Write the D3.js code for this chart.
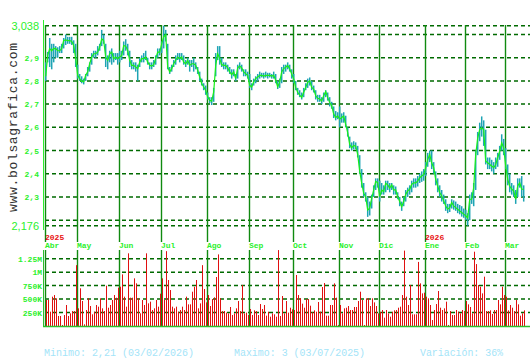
<!DOCTYPE html>
<html>
<head>
<meta charset="utf-8">
<script src="https://cdn.jsdelivr.net/npm/d3@7"></script>
<style>
  body { margin: 0; background: #fff; }
  svg { display: block; }
</style>
</head>
<body>
<svg id="chart" width="530" height="360"></svg>
<script>
// daily closes, one per trading day (Apr 2025 .. Mar 2026)
var closes = [
  2.82, 2.91, 2.939, 2.93, 2.94, 2.939, 2.93, 2.93, 2.939, 2.974, 2.977, 2.974, 2.974, 2.97, 2.953, 2.896,
  2.824, 2.81, 2.799, 2.796, 2.824, 2.839, 2.874, 2.903, 2.917, 2.917, 2.924, 2.946, 2.981, 2.974, 2.903, 2.889, 2.917, 2.924, 2.896, 2.903, 2.896,
  2.903, 2.91, 2.953, 2.95, 2.931, 2.889, 2.867, 2.867, 2.86, 2.853, 2.881, 2.896, 2.896, 2.903, 2.881, 2.867, 2.864, 2.87, 2.896, 2.924, 2.924,
  2.96, 2.99, 3.0, 2.86, 2.839, 2.853, 2.874, 2.889, 2.903, 2.896, 2.903, 2.881, 2.874, 2.889, 2.867, 2.874, 2.874, 2.867, 2.846, 2.817, 2.789, 2.774, 2.76,
  2.731, 2.717, 2.713, 2.753, 2.867, 2.917, 2.896, 2.87, 2.867, 2.867, 2.856, 2.839, 2.827, 2.839, 2.81, 2.856, 2.864, 2.856, 2.839, 2.831, 2.824,
  2.781, 2.774, 2.796, 2.81, 2.817, 2.824, 2.824, 2.821, 2.824, 2.824, 2.824, 2.821, 2.824, 2.803, 2.774, 2.796, 2.839, 2.853, 2.859, 2.867, 2.852, 2.83,
  2.809, 2.772, 2.751, 2.739, 2.729, 2.751, 2.772, 2.794, 2.801, 2.772, 2.765, 2.736, 2.725, 2.722, 2.714, 2.736, 2.754, 2.729, 2.707, 2.693, 2.657, 2.642, 2.649,
  2.635, 2.642, 2.649, 2.613, 2.577, 2.526, 2.512, 2.522, 2.519, 2.483, 2.41, 2.359, 2.316, 2.301, 2.243, 2.251, 2.294, 2.33, 2.367, 2.362,
  2.301, 2.33, 2.323, 2.359, 2.352, 2.338, 2.352, 2.33, 2.33, 2.301, 2.28, 2.258, 2.28, 2.311, 2.326, 2.333, 2.354, 2.361, 2.361, 2.368, 2.383, 2.39, 2.397,
  2.426, 2.461, 2.483, 2.447, 2.426, 2.376, 2.347, 2.319, 2.304, 2.283, 2.261, 2.247, 2.254, 2.276, 2.261, 2.254, 2.247, 2.24, 2.233, 2.226,
  2.219, 2.21, 2.29, 2.29, 2.34, 2.483, 2.554, 2.59, 2.597, 2.59, 2.454, 2.447, 2.44, 2.433, 2.426, 2.44, 2.469, 2.497, 2.533, 2.511,
  2.433, 2.376, 2.347, 2.333, 2.326, 2.29, 2.347, 2.361, 2.333, 2.333
];

var highs = [
  2.88, 2.925, 2.985, 2.96, 2.96, 2.95, 2.945, 2.95, 2.96, 2.985, 3.0, 2.99, 2.99, 2.99, 2.975, 2.96,
  2.87, 2.83, 2.82, 2.81, 2.83, 2.86, 2.88, 2.92, 2.93, 2.93, 2.95, 2.96, 3.02, 3.0, 2.96, 2.91, 2.93, 2.94, 2.92, 2.92, 2.92,
  2.93, 2.93, 2.97, 2.98, 2.96, 2.93, 2.89, 2.88, 2.88, 2.87, 2.9, 2.91, 2.92, 2.93, 2.9, 2.88, 2.88, 2.89, 2.91, 2.94, 2.94,
  2.97, 3.038, 3.02, 2.96, 2.86, 2.87, 2.89, 2.91, 2.92, 2.92, 2.92, 2.91, 2.89, 2.9, 2.89, 2.89, 2.9, 2.88, 2.86, 2.84, 2.81, 2.79, 2.78,
  2.75, 2.73, 2.73, 2.77, 2.92, 2.95, 2.95, 2.9, 2.88, 2.88, 2.87, 2.86, 2.85, 2.85, 2.83, 2.87, 2.88, 2.87, 2.85, 2.85, 2.84,
  2.83, 2.79, 2.81, 2.82, 2.83, 2.84, 2.835, 2.835, 2.84, 2.835, 2.835, 2.83, 2.84, 2.83, 2.8, 2.81, 2.86, 2.87, 2.87, 2.88, 2.87, 2.85,
  2.83, 2.8, 2.77, 2.76, 2.75, 2.77, 2.79, 2.81, 2.815, 2.8, 2.78, 2.76, 2.74, 2.74, 2.73, 2.75, 2.76, 2.75, 2.73, 2.71, 2.69, 2.67, 2.665,
  2.69, 2.66, 2.665, 2.65, 2.6, 2.56, 2.535, 2.54, 2.535, 2.52, 2.48, 2.42, 2.36, 2.32, 2.3, 2.28, 2.31, 2.35, 2.38, 2.38,
  2.37, 2.36, 2.35, 2.37, 2.37, 2.36, 2.36, 2.35, 2.345, 2.32, 2.3, 2.28, 2.3, 2.33, 2.34, 2.35, 2.37, 2.38, 2.38, 2.39, 2.4, 2.41, 2.42,
  2.45, 2.49, 2.5, 2.5, 2.45, 2.41, 2.38, 2.35, 2.33, 2.31, 2.29, 2.27, 2.27, 2.29, 2.285, 2.28, 2.27, 2.265, 2.26, 2.25,
  2.245, 2.23, 2.31, 2.32, 2.36, 2.5, 2.58, 2.62, 2.647, 2.63, 2.59, 2.47, 2.47, 2.46, 2.45, 2.47, 2.49, 2.52, 2.57, 2.55,
  2.51, 2.44, 2.4, 2.36, 2.35, 2.33, 2.38, 2.38, 2.39, 2.35
];

var lows = [
  2.8, 2.88, 2.86, 2.85, 2.88, 2.9, 2.9, 2.92, 2.92, 2.94, 2.955, 2.96, 2.96, 2.955, 2.92, 2.86,
  2.81, 2.8, 2.79, 2.785, 2.8, 2.82, 2.84, 2.87, 2.9, 2.9, 2.91, 2.93, 2.95, 2.96, 2.86, 2.85, 2.88, 2.87, 2.88, 2.89, 2.87,
  2.88, 2.89, 2.91, 2.93, 2.91, 2.86, 2.85, 2.85, 2.84, 2.8, 2.86, 2.88, 2.88, 2.89, 2.87, 2.85, 2.85, 2.86, 2.87, 2.9, 2.91,
  2.92, 2.94, 2.97, 2.85, 2.83, 2.84, 2.86, 2.87, 2.89, 2.88, 2.89, 2.87, 2.86, 2.87, 2.84, 2.86, 2.84, 2.85, 2.83, 2.8, 2.78, 2.76, 2.74,
  2.72, 2.705, 2.696, 2.71, 2.82, 2.89, 2.87, 2.86, 2.85, 2.85, 2.84, 2.83, 2.81, 2.82, 2.8, 2.81, 2.85, 2.84, 2.82, 2.82, 2.81,
  2.77, 2.76, 2.78, 2.79, 2.8, 2.81, 2.815, 2.81, 2.815, 2.81, 2.815, 2.81, 2.81, 2.79, 2.765, 2.77, 2.79, 2.83, 2.84, 2.85, 2.84, 2.81,
  2.79, 2.76, 2.74, 2.73, 2.72, 2.73, 2.76, 2.77, 2.78, 2.76, 2.75, 2.72, 2.71, 2.71, 2.7, 2.71, 2.73, 2.715, 2.69, 2.68, 2.64, 2.63, 2.635,
  2.6, 2.62, 2.62, 2.6, 2.56, 2.51, 2.5, 2.505, 2.505, 2.47, 2.4, 2.34, 2.3, 2.28, 2.214, 2.22, 2.25, 2.3, 2.33, 2.34,
  2.28, 2.31, 2.31, 2.32, 2.33, 2.32, 2.33, 2.31, 2.31, 2.29, 2.26, 2.24, 2.26, 2.28, 2.3, 2.31, 2.32, 2.34, 2.34, 2.345, 2.36, 2.365, 2.37,
  2.39, 2.43, 2.45, 2.42, 2.4, 2.35, 2.32, 2.3, 2.28, 2.27, 2.24, 2.23, 2.235, 2.25, 2.245, 2.24, 2.23, 2.225, 2.215, 2.21,
  2.2, 2.176, 2.2, 2.27, 2.26, 2.33, 2.48, 2.54, 2.56, 2.52, 2.44, 2.42, 2.42, 2.41, 2.4, 2.42, 2.43, 2.46, 2.5, 2.48,
  2.42, 2.35, 2.32, 2.31, 2.3, 2.27, 2.3, 2.34, 2.3, 2.28
];

// daily volume, thousands of shares
var volumes = [
  483, 483, 266, 545, 575, 514, 186, 186, 19, 204, 390, 186, 235, 278, 278, 1130,
  328, 700, 464, 31, 297, 514, 371, 217, 266, 390, 359, 514, 328, 278, 749, 340, 390, 483, 575, 526, 712,
  730, 959, 545, 359, 1350, 526, 526, 885, 792, 514, 235, 483, 390, 1350, 421, 452, 297, 328, 483, 359, 600,
  885, 483, 1390, 854, 668, 359, 328, 359, 266, 297, 359, 297, 545, 402, 402, 637, 730, 854, 328, 420, 1130, 687, 439,
  575, 371, 501, 532, 910, 1330, 514, 278, 278, 248, 235, 353, 204, 235, 328, 464, 278, 761, 235, 248, 204,
  316, 204, 291, 278, 204, 408, 316, 390, 192, 266, 173, 235, 217, 173, 1410, 186, 557, 235, 464, 248, 340, 309,
  297, 947, 575, 514, 415, 340, 501, 501, 377, 254, 291, 266, 446, 266, 724, 798, 192, 192, 390, 390, 792, 526, 19,
  390, 235, 328, 340, 371, 297, 297, 353, 353, 464, 637, 483, 19, 514, 514, 371, 514, 439, 371, 235,
  266, 297, 155, 297, 235, 173, 266, 291, 297, 340, 359, 575, 1400, 545, 390, 761, 217, 217, 217, 1190, 792, 606, 619,
  545, 514, 390, 111, 297, 408, 650, 340, 297, 328, 452, 19, 278, 204, 204, 297, 266, 235, 297, 278,
  464, 402, 353, 235, 1380, 1150, 761, 730, 606, 916, 278, 278, 291, 223, 297, 297, 483, 402, 730, 575,
  545, 291, 390, 340, 278, 483, 402, 192, 235, 291
];

// month labels and the index of their first trading day
var months = ["Abr", "May", "Jun", "Jul", "Ago", "Sep", "Oct", "Nov", "Dic", "Ene", "Feb", "Mar"];
var monthStart = [0, 16, 37, 58, 81, 102, 124, 147, 167, 190, 210, 230];
var years = [{label: "2025", month: 0}, {label: "2026", month: 9}];

var priceMin = 2.176, priceMax = 3.038;
var priceGrid = [2.176, 2.2, 2.3, 2.4, 2.5, 2.6, 2.7, 2.8, 2.9, 3.0, 3.038];
var priceLabels = [2.3, 2.4, 2.5, 2.6, 2.7, 2.8, 2.9];
var volTicks = [250, 500, 750, 1000, 1250];
var volTickLabels = ["250K", "500K", "750K", "1M", "1.25M"];

var footer = ["Minimo: 2,21 (03/02/2026)", "Maximo: 3 (03/07/2025)", "Variación: 36%"];

var svg = d3.select("#chart");
var green = "#2cf02c";
var mono = "'Liberation Mono', 'DejaVu Sans Mono', monospace";
var comma = d => String(d).replace(".", ",");

var x = d3.scaleLinear().domain([0, closes.length - 1]).range([45.7, 523.7]);
var y = d3.scaleLinear().domain([priceMin, priceMax]).range([225.7, 25.7]);
var yv = d3.scaleLinear().domain([0, 1250]).range([326, 258.7]);

// price grid
svg.append("g").selectAll("line")
  .data(priceGrid)
  .enter()
  .append("line")
  .attr("x1", 45).attr("x2", 530)
  .attr("y1", d => y(d)).attr("y2", d => y(d))
  .attr("stroke", "#006a00")
  .attr("stroke-width", 1.5)
  .attr("stroke-dasharray", "4,3");

// volume grid
svg.append("g").selectAll("line")
  .data(volTicks)
  .enter()
  .append("line")
  .attr("x1", 45).attr("x2", 530)
  .attr("y1", d => yv(d)).attr("y2", d => yv(d))
  .attr("stroke", "#006a00")
  .attr("stroke-width", 1.5)
  .attr("stroke-dasharray", "4,3");

// month lines, both panels
var mx = monthStart.map(i => Math.round(x(i)) - 0.5);
svg.append("g").selectAll("line")
  .data(mx)
  .enter()
  .append("line")
  .attr("x1", d => d).attr("x2", d => d)
  .attr("y1", 25).attr("y2", 242)
  .attr("stroke", "#108a10")
  .attr("stroke-width", 1.4);
svg.append("g").selectAll("line")
  .data(mx)
  .enter()
  .append("line")
  .attr("x1", d => d).attr("x2", d => d)
  .attr("y1", 250).attr("y2", 326)
  .attr("stroke", "#108a10")
  .attr("stroke-width", 1.4);

// volume bars
svg.append("g").selectAll("line")
  .data(volumes)
  .enter()
  .append("line")
  .attr("x1", (d, i) => Math.round(x(i)) + 0.5)
  .attr("x2", (d, i) => Math.round(x(i)) + 0.5)
  .attr("y1", yv(0))
  .attr("y2", d => yv(d))
  .attr("stroke", "#e01010")
  .attr("stroke-width", 1);

// high-low bars
svg.append("g").selectAll("line")
  .data(closes)
  .enter()
  .append("line")
  .attr("x1", (d, i) => x(i)).attr("x2", (d, i) => x(i))
  .attr("y1", (d, i) => y(highs[i]))
  .attr("y2", (d, i) => y(lows[i]))
  .attr("stroke", "#1ea4b4")
  .attr("stroke-width", 1.5);

// close line
var line = d3.line()
  .x((d, i) => x(i))
  .y(d => y(d));
svg.append("path")
  .datum(closes)
  .attr("d", line)
  .attr("fill", "none")
  .attr("stroke", "#18f018")
  .attr("stroke-width", 1.2);

// axes lines
svg.append("line")
  .attr("x1", 43.5).attr("x2", 43.5).attr("y1", 20).attr("y2", 230)
  .attr("stroke", green).attr("stroke-width", 1);
svg.append("line")
  .attr("x1", 43.5).attr("x2", 43.5).attr("y1", 250).attr("y2", 327)
  .attr("stroke", "#2cc02c").attr("stroke-width", 1);
svg.append("line")
  .attr("x1", 43).attr("x2", 530).attr("y1", 326.5).attr("y2", 326.5)
  .attr("stroke", "#2cc02c").attr("stroke-width", 1.5);

// price labels
svg.append("g").selectAll("text")
  .data(priceLabels)
  .enter()
  .append("text")
  .attr("x", 39)
  .attr("y", d => y(d) + 3)
  .attr("text-anchor", "end")
  .attr("font-family", mono)
  .attr("font-size", 8)
  .attr("font-weight", "bold")
  .attr("fill", green)
  .text(d => comma(d));

svg.append("g").selectAll("text")
  .data([priceMax, priceMin])
  .enter()
  .append("text")
  .attr("x", 39)
  .attr("y", d => y(d) + 4.5)
  .attr("text-anchor", "end")
  .attr("font-family", "'Liberation Sans', Arial, sans-serif")
  .attr("font-size", 11)
  .attr("fill", green)
  .text(d => comma(d));

// volume labels
svg.append("g").selectAll("text")
  .data(volTicks)
  .enter()
  .append("text")
  .attr("x", 42)
  .attr("y", d => yv(d) + 3)
  .attr("text-anchor", "end")
  .attr("font-family", mono)
  .attr("font-size", 8)
  .attr("font-weight", "bold")
  .attr("fill", green)
  .text((d, i) => volTickLabels[i]);

// month & year labels
svg.append("g").selectAll("text")
  .data(months)
  .enter()
  .append("text")
  .attr("x", (d, i) => mx[i] - 0.5)
  .attr("y", 248)
  .attr("font-family", mono)
  .attr("font-size", 8)
  .attr("font-weight", "bold")
  .attr("fill", green)
  .text(d => d);

svg.append("g").selectAll("text")
  .data(years)
  .enter()
  .append("text")
  .attr("x", d => mx[d.month] - 0.5)
  .attr("y", 239.5)
  .attr("font-family", mono)
  .attr("font-size", 8)
  .attr("font-weight", "bold")
  .attr("fill", "#e81010")
  .text(d => d.label);

// site watermark
svg.append("text")
  .attr("transform", "translate(16.5,127.5) rotate(-90)")
  .attr("text-anchor", "middle")
  .attr("font-family", "'Liberation Mono', monospace")
  .attr("font-size", 13)
  .attr("textLength", 169)
  .attr("lengthAdjust", "spacing")
  .attr("fill", "#333")
  .text("www.bolsagrafica.com");

// footer
var footX = [44, 234, 420], footW = [150, 131, 83];
svg.append("g").selectAll("text")
  .data(footer)
  .enter()
  .append("text")
  .attr("x", (d, i) => footX[i])
  .attr("y", 356)
  .attr("font-family", mono)
  .attr("font-size", 11)
  .attr("textLength", (d, i) => footW[i])
  .attr("lengthAdjust", "spacingAndGlyphs")
  .attr("fill", "#a4e4f8")
  .text(d => d);
</script>
</body>
</html>
